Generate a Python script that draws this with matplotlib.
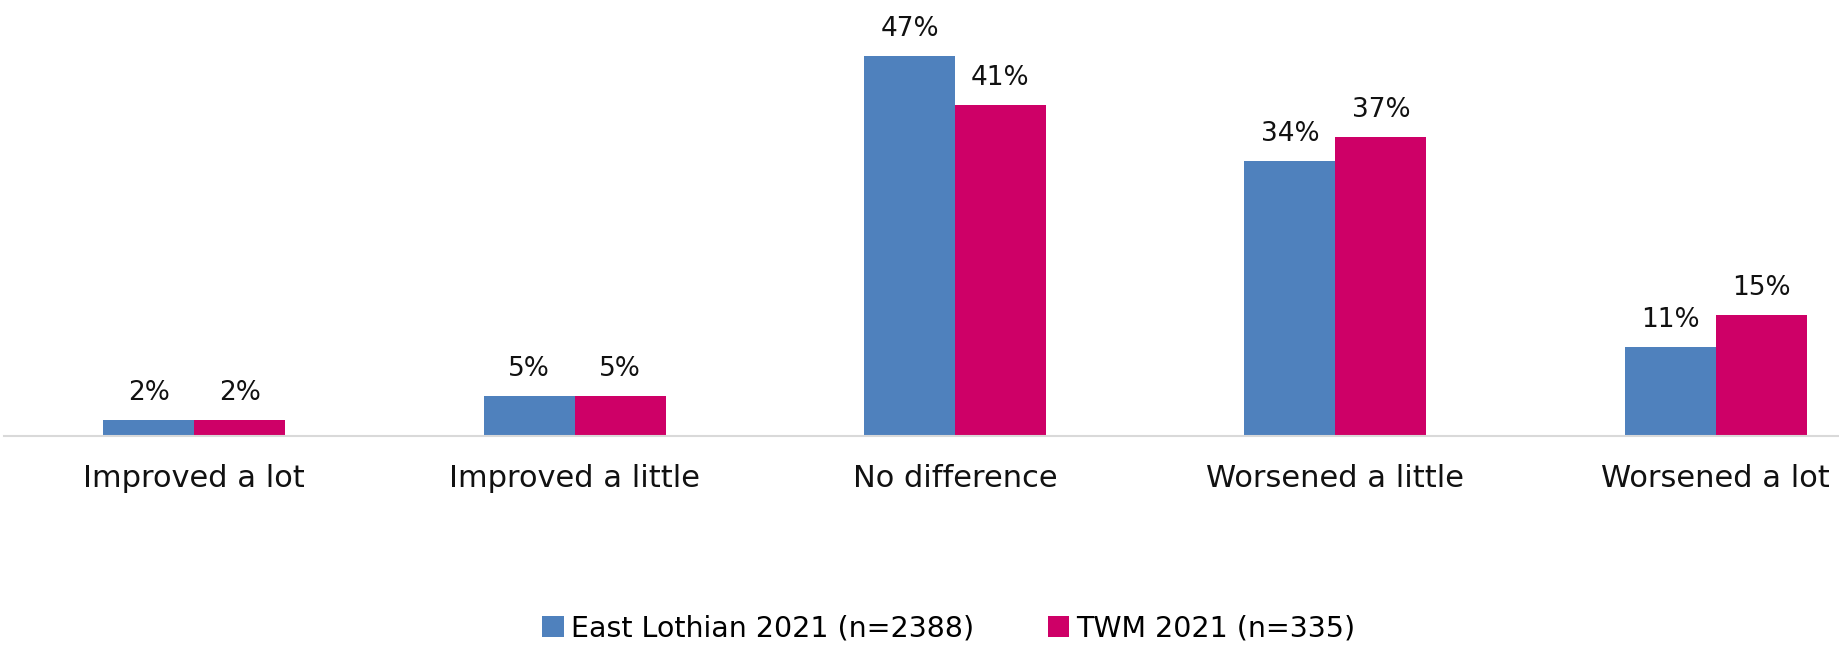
import numpy as np
import matplotlib.pyplot as plt

categories = ['Improved a lot', 'Improved a little', 'No difference',
              'Worsened a little', 'Worsened a lot']
east_lothian = [2, 5, 47, 34, 11]
twm = [2, 5, 41, 37, 15]
series_names = ['East Lothian 2021 (n=2388)', 'TWM 2021 (n=335)']

blue = '#4F81BD'
pink = '#CE0067'

plt.rcParams['font.family'] = ['DejaVu Sans']

fig = plt.figure(figsize=(18.39, 6.46), dpi=100, facecolor='white')
ax = fig.add_axes([4 / 1839, 210 / 646, 1902 / 1839, 404 / 646])

x = np.arange(len(categories))
w = 0.239
b1 = ax.bar(x - w / 2, east_lothian, w, color=blue, label=series_names[0])
b2 = ax.bar(x + w / 2, twm, w, color=pink, label=series_names[1])

for bars, vals in ((b1, east_lothian), (b2, twm)):
    for rect, v in zip(bars, vals):
        ax.annotate(f'{v}%', (rect.get_x() + rect.get_width() / 2, v),
                    xytext=(0, 10), textcoords='offset points',
                    ha='center', va='bottom', fontsize=19, color='#111111')

ax.set_xlim(-0.5, 4.5)
ax.set_ylim(0, 50)
ax.set_xticks(x)
ax.set_xticklabels(categories, fontsize=22, color='#111111')
ax.tick_params(axis='x', length=0, pad=20)
ax.set_yticks([])
for s in ['top', 'right', 'left']:
    ax.spines[s].set_visible(False)
ax.spines['bottom'].set_color('#D9D9D9')
ax.spines['bottom'].set_linewidth(1.5)

fig.legend(loc='center', bbox_to_anchor=(0.516, 0.027), ncol=2, frameon=False,
           fontsize=20.5, handlelength=0.75, handleheight=0.75, handletextpad=0.25,
           columnspacing=2.6)

fig.savefig('out.png', dpi=100, facecolor='white')
